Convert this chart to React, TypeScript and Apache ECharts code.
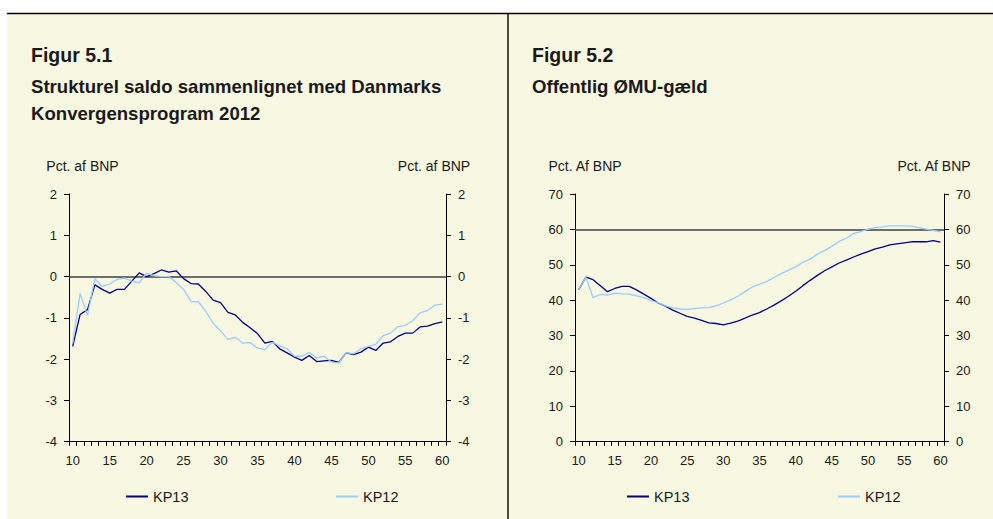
import React, { useEffect, useRef } from "react";
import * as echarts from "echarts";

const years = [
  "10", "11", "12", "13", "14", "15", "16", "17", "18", "19",
  "20", "21", "22", "23", "24", "25", "26", "27", "28", "29",
  "30", "31", "32", "33", "34", "35", "36", "37", "38", "39",
  "40", "41", "42", "43", "44", "45", "46", "47", "48", "49",
  "50", "51", "52", "53", "54", "55", "56", "57", "58", "59", "60",
];

// Figur 5.1 – Strukturel saldo (pct. af BNP)
const saldoKP13 = [
  -1.69, -0.92, -0.8, -0.2, -0.31, -0.4, -0.31, -0.31, -0.11, 0.09,
  0.0, 0.07, 0.16, 0.11, 0.14, -0.05, -0.17, -0.18, -0.36, -0.57,
  -0.63, -0.87, -0.93, -1.11, -1.24, -1.38, -1.61, -1.57, -1.75, -1.85,
  -1.95, -2.03, -1.91, -2.06, -2.04, -2.03, -2.08, -1.85, -1.89, -1.83,
  -1.71, -1.79, -1.61, -1.58, -1.45, -1.37, -1.37, -1.22, -1.2, -1.14, -1.1,
];
const saldoKP12 = [
  -1.62, -0.41, -0.94, -0.05, -0.24, -0.18, -0.07, -0.04, -0.11, -0.15,
  0.08, 0.02, 0.0, 0.0, -0.15, -0.31, -0.6, -0.61, -0.84, -1.13,
  -1.32, -1.52, -1.47, -1.61, -1.6, -1.73, -1.77, -1.59, -1.68, -1.75,
  -1.93, -1.93, -1.84, -1.97, -1.93, -2.07, -2.09, -1.84, -1.87, -1.75,
  -1.69, -1.64, -1.43, -1.37, -1.21, -1.18, -1.07, -0.88, -0.82, -0.69, -0.67,
];

// Figur 5.2 – Offentlig ØMU-gæld (pct. af BNP)
const gaeldKP13 = [
  42.9, 46.5, 45.8, 44.1, 42.4, 43.3, 43.9, 43.9, 42.9, 41.7,
  40.5, 39.2, 38.3, 37.2, 36.3, 35.4, 34.9, 34.3, 33.6, 33.4,
  33.0, 33.5, 34.1, 34.9, 35.8, 36.5, 37.5, 38.6, 39.8, 41.1,
  42.5, 44.1, 45.6, 47.0, 48.3, 49.4, 50.5, 51.3, 52.2, 53.0,
  53.7, 54.5, 55.0, 55.6, 55.9, 56.2, 56.5, 56.5, 56.5, 56.8, 56.4,
];
const gaeldKP12 = [
  42.9, 46.5, 40.7, 41.6, 41.4, 42.0, 41.8, 41.7, 41.2, 40.7,
  39.9, 39.3, 38.4, 37.8, 37.5, 37.4, 37.6, 37.8, 37.9, 38.4,
  39.2, 40.1, 41.1, 42.4, 43.7, 44.5, 45.3, 46.4, 47.5, 48.5,
  49.4, 50.7, 51.6, 53.0, 54.0, 55.2, 56.6, 57.5, 58.8, 59.4,
  60.1, 60.5, 60.7, 61.0, 61.0, 61.0, 60.9, 60.5, 60.1, 59.7, 59.3,
];

const saldoRange = { min: -4, max: 2, interval: 1 };
const gaeldRange = { min: 0, max: 70, interval: 10 };
const saldoRefLine = 0;
const gaeldRefLine = 60;

const FONT = '"Liberation Sans", Arial, sans-serif';
const TEXT = "#1a1a1a";
const NAVY = "#000080";
const LIGHT = "#99CCFF";
const CREAM = "#F8F7E1";

function xAxis(gridIndex: number) {
  return {
    type: "category",
    gridIndex,
    data: years,
    boundaryGap: true,
    axisLine: { show: true, onZero: false, lineStyle: { color: "#000", width: 1 } },
    axisTick: { show: true, interval: 0, length: 4, lineStyle: { color: "#000", width: 1 } },
    axisLabel: { interval: 4, margin: 12, color: TEXT, fontSize: 13, fontFamily: FONT },
    splitLine: { show: false },
  };
}

function yAxis(gridIndex: number, position: string, r: { min: number; max: number; interval: number }) {
  return {
    type: "value",
    gridIndex,
    position,
    min: r.min,
    max: r.max,
    interval: r.interval,
    axisLine: { show: true, onZero: false, lineStyle: { color: "#000", width: 1 } },
    axisTick: { show: true, length: 5, lineStyle: { color: "#000", width: 1 } },
    axisLabel: { margin: 12, color: TEXT, fontSize: 13, fontFamily: FONT },
    splitLine: { show: false },
  };
}

function lineSeries(name: string, data: number[], color: string, xIdx: number, yIdx: number, ref?: number) {
  const s: any = {
    name,
    type: "line",
    xAxisIndex: xIdx,
    yAxisIndex: yIdx,
    data,
    color,
    showSymbol: false,
    symbol: "none",
    smooth: false,
    lineStyle: { color, width: 1.3 },
    itemStyle: { color },
    z: 3,
  };
  if (ref !== undefined) {
    s.markLine = {
      silent: true,
      symbol: ["none", "none"],
      label: { show: false },
      lineStyle: { color: "#404040", width: 1.5, type: "solid" },
      data: [{ yAxis: ref }],
      z: 1,
    };
  }
  return s;
}

function legend(name: string, left: number) {
  return {
    show: true,
    data: [name],
    left,
    top: 489,
    padding: 0,
    orient: "horizontal",
    icon: "rect",
    itemWidth: 22,
    itemHeight: 2,
    selectedMode: false,
    textStyle: { color: TEXT, fontSize: 14.5, fontFamily: FONT },
  };
}

function txt(text: string, x: number, y: number, size: number, bold: boolean, align = "left") {
  return {
    type: "text",
    x,
    y,
    silent: true,
    style: {
      text,
      fill: TEXT,
      font: `${bold ? "bold " : ""}${size}px ${FONT}`,
      align,
      verticalAlign: "middle",
    },
  };
}

export default function App() {
  const ref = useRef<HTMLDivElement>(null);

  useEffect(() => {
    if (!ref.current) return;
    const chart = echarts.init(ref.current, undefined, { renderer: "svg" });
    chart.setOption({
      animation: false,
      backgroundColor: "transparent",
      textStyle: { fontFamily: FONT },
      grid: [
        { left: 69, right: 547, top: 194, bottom: 77.3, containLabel: false },
        { left: 575, right: 49, top: 194, bottom: 77.3, containLabel: false },
      ],
      xAxis: [xAxis(0), xAxis(1)],
      yAxis: [
        yAxis(0, "left", saldoRange),
        yAxis(0, "right", saldoRange),
        yAxis(1, "left", gaeldRange),
        yAxis(1, "right", gaeldRange),
      ],
      legend: [legend("KP13", 126), legend("KP12", 336), legend("KP13", 627), legend("KP12", 838)],
      series: [
        lineSeries("KP13", saldoKP13, NAVY, 0, 0, saldoRefLine),
        lineSeries("KP12", saldoKP12, LIGHT, 0, 0),
        lineSeries("KP13", gaeldKP13, NAVY, 1, 2, gaeldRefLine),
        lineSeries("KP12", gaeldKP12, LIGHT, 1, 2),
      ],
      graphic: [
        { type: "line", silent: true, shape: { x1: 7, y1: 13.5, x2: 993, y2: 13.5 }, style: { stroke: "#000", lineWidth: 1.4 } },
        { type: "line", silent: true, shape: { x1: 508, y1: 13, x2: 508, y2: 519 }, style: { stroke: "#000", lineWidth: 1.4 } },
        txt("Figur 5.1", 31, 55, 19.5, true),
        txt("Strukturel saldo sammenlignet med Danmarks", 31, 86, 18.6, true),
        txt("Konvergensprogram 2012", 31, 113, 18.6, true),
        txt("Figur 5.2", 532, 55, 19.5, true),
        txt("Offentlig ØMU-gæld", 532, 86, 18.6, true),
        txt("Pct. af BNP", 82.5, 166, 14, false, "center"),
        txt("Pct. af BNP", 434, 166, 14, false, "center"),
        txt("Pct. Af BNP", 585, 166, 14, false, "center"),
        txt("Pct. Af BNP", 934, 166, 14, false, "center"),
      ],
    });
    return () => chart.dispose();
  }, []);

  return (
    <div style={{ position: "absolute", left: 0, top: 0, width: 993, height: 519, background: "#fff", overflow: "hidden" }}>
      <div style={{ position: "absolute", left: 7, top: 13, width: 986, height: 506, background: CREAM }} />
      <div ref={ref} style={{ position: "absolute", left: 0, top: 0, width: 993, height: 519 }} />
    </div>
  );
}
